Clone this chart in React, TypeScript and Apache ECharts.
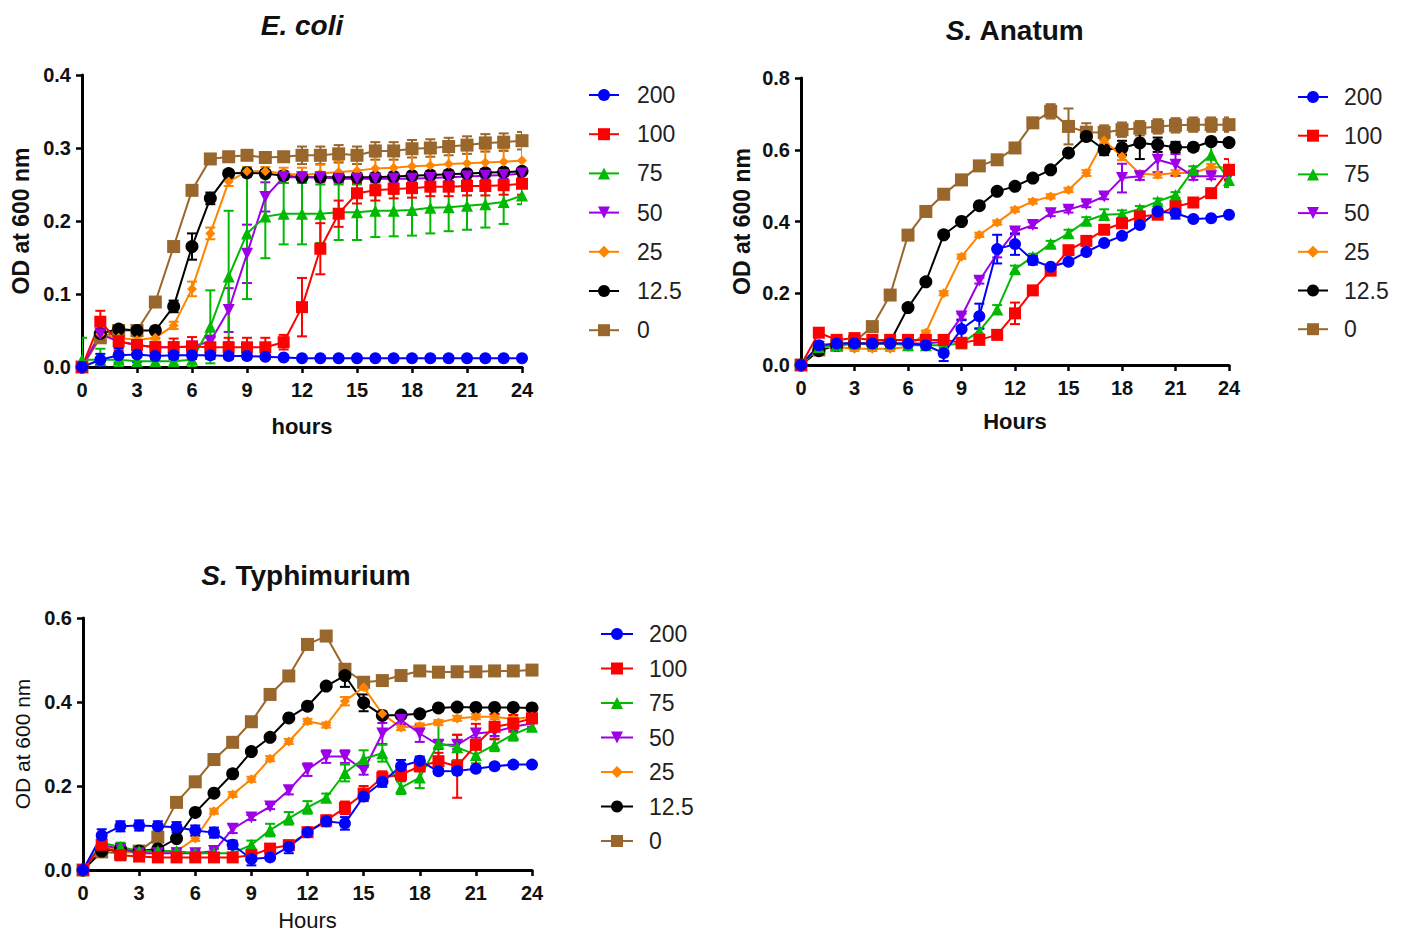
import React, { useEffect, useRef } from "react";
import * as echarts from "echarts";

const FONT = '"Liberation Sans", Arial, Helvetica, sans-serif';

const HOURS = [0, 1, 2, 3, 4, 5, 6, 7, 8, 9, 10, 11, 12, 13, 14, 15, 16, 17, 18, 19, 20, 21, 22, 23, 24];
const DOSES = ["200", "100", "75", "50", "25", "12.5", "0"];
const COLORS = ["#0000ff", "#ff0000", "#00b900", "#9d00e6", "#ff8400", "#000000", "#99662b"];
const SYMBOLS = ["circle", "rect", "triangle", "triangle", "diamond", "circle", "rect"];
const ROTATE = [0, 0, 0, 180, 0, 0, 0];
const SIZES = [12, 12, 12, 12, 10, 13, 13];

// ---------- E. coli ----------
const ec200 = [0, 0.01, 0.016, 0.017, 0.015, 0.016, 0.016, 0.016, 0.015, 0.015, 0.014, 0.013, 0.012, 0.012, 0.012, 0.012, 0.012, 0.012, 0.012, 0.012, 0.012, 0.012, 0.012, 0.012, 0.012];
const ec100 = [0, 0.062, 0.035, 0.03, 0.027, 0.027, 0.028, 0.027, 0.027, 0.027, 0.027, 0.034, 0.082, 0.162, 0.21, 0.238, 0.242, 0.244, 0.245, 0.247, 0.247, 0.248, 0.248, 0.249, 0.251];
const ec75 = [0.01, 0.01, 0.01, 0.008, 0.008, 0.008, 0.01, 0.055, 0.124, 0.183, 0.206, 0.21, 0.21, 0.21, 0.212, 0.212, 0.214, 0.214, 0.215, 0.218, 0.219, 0.221, 0.223, 0.226, 0.235];
const ec50 = [0, 0.045, 0.035, 0.03, 0.027, 0.027, 0.028, 0.035, 0.078, 0.155, 0.233, 0.26, 0.26, 0.26, 0.258, 0.258, 0.258, 0.258, 0.258, 0.259, 0.26, 0.261, 0.262, 0.263, 0.265];
const ec25 = [0, 0.045, 0.04, 0.037, 0.04, 0.057, 0.107, 0.183, 0.254, 0.268, 0.268, 0.265, 0.263, 0.265, 0.267, 0.269, 0.272, 0.273, 0.275, 0.276, 0.278, 0.279, 0.28, 0.281, 0.283];
const ec12 = [0, 0.046, 0.052, 0.05, 0.05, 0.083, 0.165, 0.231, 0.265, 0.266, 0.265, 0.262, 0.26, 0.26, 0.26, 0.26, 0.26, 0.261, 0.262, 0.263, 0.264, 0.265, 0.266, 0.267, 0.268];
const ec0 = [0, 0.04, 0.05, 0.05, 0.089, 0.165, 0.242, 0.285, 0.288, 0.29, 0.287, 0.288, 0.29, 0.29, 0.292, 0.29, 0.296, 0.296, 0.299, 0.3, 0.302, 0.304, 0.307, 0.308, 0.31];

const ecE200 = [0, 0.008, 0.01, 0.01, 0.005, 0.005, 0.005, 0.005, 0.004, 0.004, 0.003, 0.003, 0.003, 0.003, 0.003, 0.003, 0.003, 0.003, 0.003, 0.003, 0.003, 0.003, 0.003, 0.003, 0.003];
const ecE100 = [0, 0.015, 0.012, 0.012, 0.012, 0.012, 0.013, 0.013, 0.013, 0.013, 0.013, 0.01, 0.04, 0.035, 0.018, 0.014, 0.014, 0.013, 0.013, 0.013, 0.013, 0.013, 0.013, 0.013, 0.015];
const ecE75 = [0.03, 0.015, 0.01, 0.01, 0.008, 0.008, 0.01, 0.05, 0.09, 0.09, 0.057, 0.042, 0.042, 0.04, 0.038, 0.038, 0.036, 0.035, 0.035, 0.035, 0.033, 0.033, 0.032, 0.03, 0.012];
const ecE50 = [0, 0.005, 0.005, 0.005, 0.005, 0.005, 0.005, 0.008, 0.03, 0.04, 0.02, 0.008, 0.006, 0.006, 0.005, 0.005, 0.005, 0.005, 0.005, 0.005, 0.005, 0.005, 0.005, 0.005, 0.005];
const ecE25 = [0, 0.005, 0.005, 0.005, 0.005, 0.005, 0.01, 0.008, 0.006, 0.006, 0.006, 0.008, 0.01, 0.012, 0.015, 0.015, 0.016, 0.016, 0.017, 0.017, 0.018, 0.018, 0.018, 0.018, 0.02];
const ecE12 = [0, 0.005, 0.005, 0.005, 0.005, 0.008, 0.018, 0.008, 0.005, 0.005, 0.005, 0.005, 0.005, 0.005, 0.005, 0.005, 0.005, 0.005, 0.005, 0.005, 0.005, 0.005, 0.005, 0.005, 0.005];
const ecE0 = [0, 0.005, 0.005, 0.005, 0.005, 0.005, 0.005, 0.005, 0.005, 0.005, 0.005, 0.006, 0.012, 0.012, 0.012, 0.012, 0.012, 0.012, 0.012, 0.012, 0.012, 0.012, 0.012, 0.012, 0.012];

// ---------- S. Anatum ----------
const an200 = [0, 0.055, 0.06, 0.06, 0.06, 0.06, 0.06, 0.055, 0.033, 0.1, 0.136, 0.323, 0.337, 0.292, 0.274, 0.288, 0.315, 0.34, 0.36, 0.39, 0.428, 0.423, 0.407, 0.409, 0.419];
const an100 = [0, 0.09, 0.07, 0.075, 0.07, 0.07, 0.07, 0.07, 0.07, 0.062, 0.07, 0.084, 0.144, 0.208, 0.263, 0.32, 0.346, 0.377, 0.395, 0.414, 0.419, 0.442, 0.453, 0.479, 0.544];
const an75 = [0, 0.05, 0.055, 0.06, 0.06, 0.06, 0.055, 0.055, 0.055, 0.06, 0.095, 0.155, 0.267, 0.302, 0.338, 0.367, 0.402, 0.419, 0.421, 0.435, 0.456, 0.474, 0.544, 0.586, 0.516];
const an50 = [0, 0.05, 0.06, 0.06, 0.06, 0.06, 0.06, 0.06, 0.065, 0.135, 0.235, 0.31, 0.372, 0.39, 0.423, 0.433, 0.448, 0.47, 0.521, 0.526, 0.572, 0.558, 0.526, 0.526, 0.526];
const an25 = [0, 0.05, 0.05, 0.045, 0.045, 0.045, 0.05, 0.09, 0.2, 0.302, 0.363, 0.397, 0.433, 0.456, 0.47, 0.488, 0.535, 0.626, 0.581, 0.533, 0.53, 0.535, 0.535, 0.552, 0.55];
const an12 = [0, 0.04, 0.055, 0.06, 0.06, 0.065, 0.16, 0.232, 0.363, 0.4, 0.444, 0.484, 0.498, 0.521, 0.544, 0.591, 0.637, 0.6, 0.605, 0.619, 0.614, 0.607, 0.607, 0.623, 0.62];
const an0 = [0, 0.042, 0.055, 0.065, 0.107, 0.195, 0.362, 0.428, 0.476, 0.516, 0.555, 0.572, 0.605, 0.675, 0.707, 0.665, 0.649, 0.648, 0.656, 0.66, 0.665, 0.668, 0.67, 0.67, 0.67];

const anE200 = [0, 0.01, 0.01, 0.01, 0.01, 0.01, 0.008, 0.006, 0.022, 0.025, 0.035, 0.04, 0.03, 0.012, 0.006, 0.006, 0.006, 0.006, 0.006, 0.006, 0.006, 0.015, 0.006, 0.006, 0.006];
const anE100 = [0, 0.01, 0.008, 0.008, 0.008, 0.008, 0.008, 0.008, 0.008, 0.006, 0.008, 0.01, 0.03, 0.01, 0.008, 0.008, 0.01, 0.01, 0.008, 0.008, 0.008, 0.008, 0.008, 0.01, 0.03];
const anE75 = [0, 0.008, 0.006, 0.006, 0.006, 0.006, 0.006, 0.006, 0.006, 0.006, 0.008, 0.012, 0.01, 0.008, 0.008, 0.01, 0.01, 0.015, 0.01, 0.008, 0.008, 0.008, 0.01, 0.035, 0.02];
const anE50 = [0, 0.006, 0.006, 0.006, 0.006, 0.006, 0.006, 0.006, 0.006, 0.008, 0.008, 0.01, 0.008, 0.008, 0.008, 0.008, 0.008, 0.008, 0.04, 0.01, 0.035, 0.03, 0.01, 0.008, 0.008];
const anE25 = [0, 0.006, 0.006, 0.006, 0.006, 0.006, 0.006, 0.006, 0.006, 0.006, 0.006, 0.006, 0.006, 0.006, 0.006, 0.006, 0.008, 0.008, 0.01, 0.008, 0.008, 0.008, 0.008, 0.008, 0.008];
const anE12 = [0, 0.006, 0.006, 0.006, 0.006, 0.006, 0.006, 0.006, 0.006, 0.006, 0.006, 0.006, 0.006, 0.006, 0.006, 0.006, 0.008, 0.015, 0.02, 0.045, 0.02, 0.015, 0.01, 0.01, 0.01];
const anE0 = [0, 0.006, 0.006, 0.006, 0.006, 0.006, 0.006, 0.006, 0.006, 0.006, 0.006, 0.006, 0.008, 0.01, 0.02, 0.05, 0.025, 0.02, 0.02, 0.02, 0.02, 0.02, 0.02, 0.02, 0.02];

// ---------- S. Typhimurium ----------
const ty200 = [0, 0.082, 0.104, 0.106, 0.104, 0.102, 0.094, 0.089, 0.06, 0.026, 0.03, 0.055, 0.09, 0.116, 0.111, 0.175, 0.21, 0.247, 0.26, 0.235, 0.236, 0.241, 0.247, 0.251, 0.251];
const ty100 = [0, 0.06, 0.035, 0.032, 0.03, 0.03, 0.03, 0.03, 0.03, 0.035, 0.051, 0.059, 0.09, 0.118, 0.148, 0.182, 0.22, 0.227, 0.247, 0.259, 0.247, 0.298, 0.341, 0.349, 0.361];
const ty75 = [0, 0.065, 0.055, 0.045, 0.045, 0.045, 0.04, 0.04, 0.04, 0.06, 0.095, 0.123, 0.149, 0.172, 0.231, 0.265, 0.278, 0.196, 0.22, 0.302, 0.292, 0.274, 0.298, 0.323, 0.341];
const ty50 = [0, 0.06, 0.05, 0.04, 0.04, 0.04, 0.04, 0.045, 0.098, 0.125, 0.151, 0.19, 0.239, 0.27, 0.27, 0.237, 0.325, 0.357, 0.325, 0.298, 0.298, 0.325, 0.329, 0.341, 0.349];
const ty25 = [0, 0.06, 0.045, 0.04, 0.04, 0.045, 0.075, 0.14, 0.18, 0.216, 0.265, 0.306, 0.354, 0.345, 0.402, 0.435, 0.372, 0.339, 0.343, 0.351, 0.361, 0.365, 0.365, 0.359, 0.365];
const ty12 = [0, 0.045, 0.05, 0.045, 0.05, 0.075, 0.137, 0.183, 0.229, 0.282, 0.316, 0.362, 0.39, 0.438, 0.463, 0.398, 0.368, 0.369, 0.372, 0.386, 0.388, 0.387, 0.387, 0.387, 0.386];
const ty0 = [0, 0.043, 0.04, 0.045, 0.078, 0.161, 0.21, 0.263, 0.304, 0.353, 0.418, 0.462, 0.537, 0.557, 0.478, 0.447, 0.451, 0.463, 0.474, 0.471, 0.472, 0.472, 0.474, 0.474, 0.476];

const tyE200 = [0, 0.015, 0.012, 0.012, 0.012, 0.012, 0.012, 0.012, 0.01, 0.015, 0.005, 0.015, 0.01, 0.012, 0.015, 0.01, 0.012, 0.015, 0.01, 0.006, 0.006, 0.006, 0.006, 0.006, 0.006];
const tyE100 = [0, 0.01, 0.006, 0.006, 0.006, 0.006, 0.006, 0.006, 0.006, 0.006, 0.01, 0.008, 0.01, 0.012, 0.015, 0.018, 0.015, 0.015, 0.012, 0.02, 0.075, 0.05, 0.03, 0.02, 0.025];
const tyE75 = [0, 0.01, 0.01, 0.006, 0.006, 0.006, 0.01, 0.01, 0.01, 0.01, 0.015, 0.015, 0.015, 0.01, 0.02, 0.02, 0.02, 0.015, 0.025, 0.05, 0.03, 0.02, 0.015, 0.015, 0.01];
const tyE50 = [0, 0.006, 0.006, 0.006, 0.006, 0.006, 0.006, 0.006, 0.01, 0.006, 0.006, 0.01, 0.015, 0.015, 0.015, 0.01, 0.025, 0.01, 0.02, 0.01, 0.01, 0.01, 0.01, 0.008, 0.008];
const tyE25 = [0, 0.006, 0.006, 0.006, 0.006, 0.006, 0.006, 0.006, 0.006, 0.006, 0.006, 0.006, 0.006, 0.006, 0.01, 0.006, 0.006, 0.006, 0.006, 0.006, 0.006, 0.006, 0.006, 0.006, 0.006];
const tyE12 = [0, 0.006, 0.006, 0.006, 0.006, 0.006, 0.006, 0.006, 0.006, 0.006, 0.006, 0.006, 0.006, 0.006, 0.027, 0.02, 0.006, 0.006, 0.006, 0.006, 0.006, 0.006, 0.006, 0.006, 0.006];
const tyE0 = [0, 0.006, 0.006, 0.006, 0.006, 0.006, 0.006, 0.006, 0.006, 0.006, 0.006, 0.006, 0.006, 0.006, 0.006, 0.006, 0.006, 0.006, 0.006, 0.006, 0.006, 0.006, 0.006, 0.006, 0.006];

const PANELS = [
  {
    values: [ec200, ec100, ec75, ec50, ec25, ec12, ec0],
    errors: [ecE200, ecE100, ecE75, ecE50, ecE25, ecE12, ecE0],
    yMax: 0.4, yInterval: 0.1,
    grid: { left: 82, top: 75, width: 440, height: 292 },
    xName: "hours", xNameBold: true, xNameGap: 48,
    yNameBold: true, yNameSize: 23, yNameGap: 50,
    legend: { left: 588, top: 83, itemWidth: 30, gap: 15.2, pad: 13, size: 23 },
  },
  {
    values: [an200, an100, an75, an50, an25, an12, an0],
    errors: [anE200, anE100, anE75, anE50, anE25, anE12, anE0],
    yMax: 0.8, yInterval: 0.2,
    grid: { left: 801, top: 78, width: 428, height: 287 },
    xName: "Hours", xNameBold: true, xNameGap: 45,
    yNameBold: true, yNameSize: 23, yNameGap: 48,
    legend: { left: 1297, top: 85, itemWidth: 30, gap: 14.7, pad: 11, size: 23 },
  },
  {
    values: [ty200, ty100, ty75, ty50, ty25, ty12, ty0],
    errors: [tyE200, tyE100, tyE75, tyE50, tyE25, tyE12, tyE0],
    yMax: 0.6, yInterval: 0.2,
    grid: { left: 83, top: 618, width: 449, height: 255 },
    xName: "Hours", xNameBold: false, xNameGap: 39,
    yNameBold: false, yNameSize: 21, yNameGap: 50,
    legend: { left: 600, top: 622, itemWidth: 32, gap: 10.5, pad: 11, size: 23 },
  },
];

const TITLES = [
  { text: "{i|E. coli}", x: 302, y: 25 },
  { text: "{i|S.} Anatum", x: 1015, y: 30 },
  { text: "{i|S.} Typhimurium", x: 306, y: 575 },
];

function makeErrRender(color: string) {
  return (params: any, api: any) => {
    const x = api.value(0);
    const lo = api.value(1);
    const hi = api.value(2);
    const p1 = api.coord([x, lo]);
    const p2 = api.coord([x, hi]);
    const w = 5;
    const style = { stroke: color, lineWidth: 2 };
    return {
      type: "group",
      children: [
        { type: "line", shape: { x1: p1[0], y1: p1[1], x2: p2[0], y2: p2[1] }, style },
        { type: "line", shape: { x1: p1[0] - w, y1: p1[1], x2: p1[0] + w, y2: p1[1] }, style },
        { type: "line", shape: { x1: p2[0] - w, y1: p2[1], x2: p2[0] + w, y2: p2[1] }, style },
      ],
    };
  };
}

function buildOption() {
  const grid: any[] = [];
  const xAxis: any[] = [];
  const yAxis: any[] = [];
  const legend: any[] = [];
  const series: any[] = [];

  PANELS.forEach((p, i) => {
    grid.push({ ...p.grid, containLabel: false });
    xAxis.push({
      gridIndex: i,
      type: "value",
      min: 0,
      max: 24,
      interval: 3,
      name: p.xName,
      nameLocation: "middle",
      nameGap: p.xNameGap,
      nameTextStyle: { color: "#111", fontSize: 22, fontWeight: p.xNameBold ? "bold" : "normal", fontFamily: FONT },
      axisLine: { onZero: false, lineStyle: { color: "#000", width: 3 } },
      axisTick: { length: 6, lineStyle: { color: "#000", width: 2.5 } },
      axisLabel: { color: "#111", fontSize: 20, fontWeight: "bold", fontFamily: FONT, margin: 13 },
      splitLine: { show: false },
    });
    yAxis.push({
      gridIndex: i,
      type: "value",
      min: 0,
      max: p.yMax,
      interval: p.yInterval,
      name: "OD at 600 nm",
      nameLocation: "middle",
      nameGap: p.yNameGap,
      nameTextStyle: { color: "#111", fontSize: p.yNameSize, fontWeight: p.yNameBold ? "bold" : "normal", fontFamily: FONT },
      axisLine: { onZero: false, lineStyle: { color: "#000", width: 3 } },
      axisTick: { length: 6, lineStyle: { color: "#000", width: 2.5 } },
      axisLabel: { color: "#111", fontSize: 20, fontWeight: "bold", fontFamily: FONT, margin: 11, formatter: (v: number) => v.toFixed(1) },
      splitLine: { show: false },
    });
    legend.push({
      orient: "vertical",
      left: p.legend.left,
      top: p.legend.top,
      padding: 0,
      itemWidth: p.legend.itemWidth,
      itemHeight: 15,
      itemGap: p.legend.gap,
      selectedMode: false,
      data: DOSES,
      textStyle: { fontSize: p.legend.size, lineHeight: 24, color: "#222", fontFamily: FONT, padding: [0, 0, 0, p.legend.pad] },
    });
    for (let k = DOSES.length - 1; k >= 0; k--) {
      const vals = p.values[k];
      const errs = p.errors[k];
      series.push({
        type: "custom",
        xAxisIndex: i,
        yAxisIndex: i,
        silent: true,
        clip: true,
        renderItem: makeErrRender(COLORS[k]),
        encode: { x: 0, y: [1, 2] },
        data: HOURS.map((h, j) => [h, vals[j] - errs[j], vals[j] + errs[j]]),
      });
      series.push({
        type: "line",
        name: DOSES[k],
        xAxisIndex: i,
        yAxisIndex: i,
        data: HOURS.map((h, j) => [h, vals[j]]),
        symbol: SYMBOLS[k],
        symbolSize: SIZES[k],
        symbolRotate: ROTATE[k],
        showAllSymbol: true,
        lineStyle: { color: COLORS[k], width: 2 },
        itemStyle: { color: COLORS[k] },
        emphasis: { disabled: true },
      });
    }
  });

  const graphic = TITLES.map((t) => ({
    type: "text",
    x: t.x,
    y: t.y,
    style: {
      text: t.text,
      fill: "#111",
      fontSize: 28,
      fontWeight: "bold",
      fontFamily: FONT,
      align: "center",
      verticalAlign: "middle",
      rich: { i: { fontStyle: "italic", fontWeight: "bold", fontSize: 28, fontFamily: FONT, fill: "#111" } },
    },
  }));

  return {
    animation: false,
    backgroundColor: "#ffffff",
    grid,
    xAxis,
    yAxis,
    legend,
    series,
    graphic,
  };
}

export default function App() {
  const ref = useRef<HTMLDivElement>(null);
  useEffect(() => {
    if (!ref.current) return;
    const chart = echarts.init(ref.current, undefined, { renderer: "svg" });
    chart.setOption(buildOption() as any);
    return () => chart.dispose();
  }, []);
  return (
    <div
      ref={ref}
      style={{ position: "fixed", left: 0, top: 0, width: 1404, height: 932, background: "#fff" }}
    />
  );
}
